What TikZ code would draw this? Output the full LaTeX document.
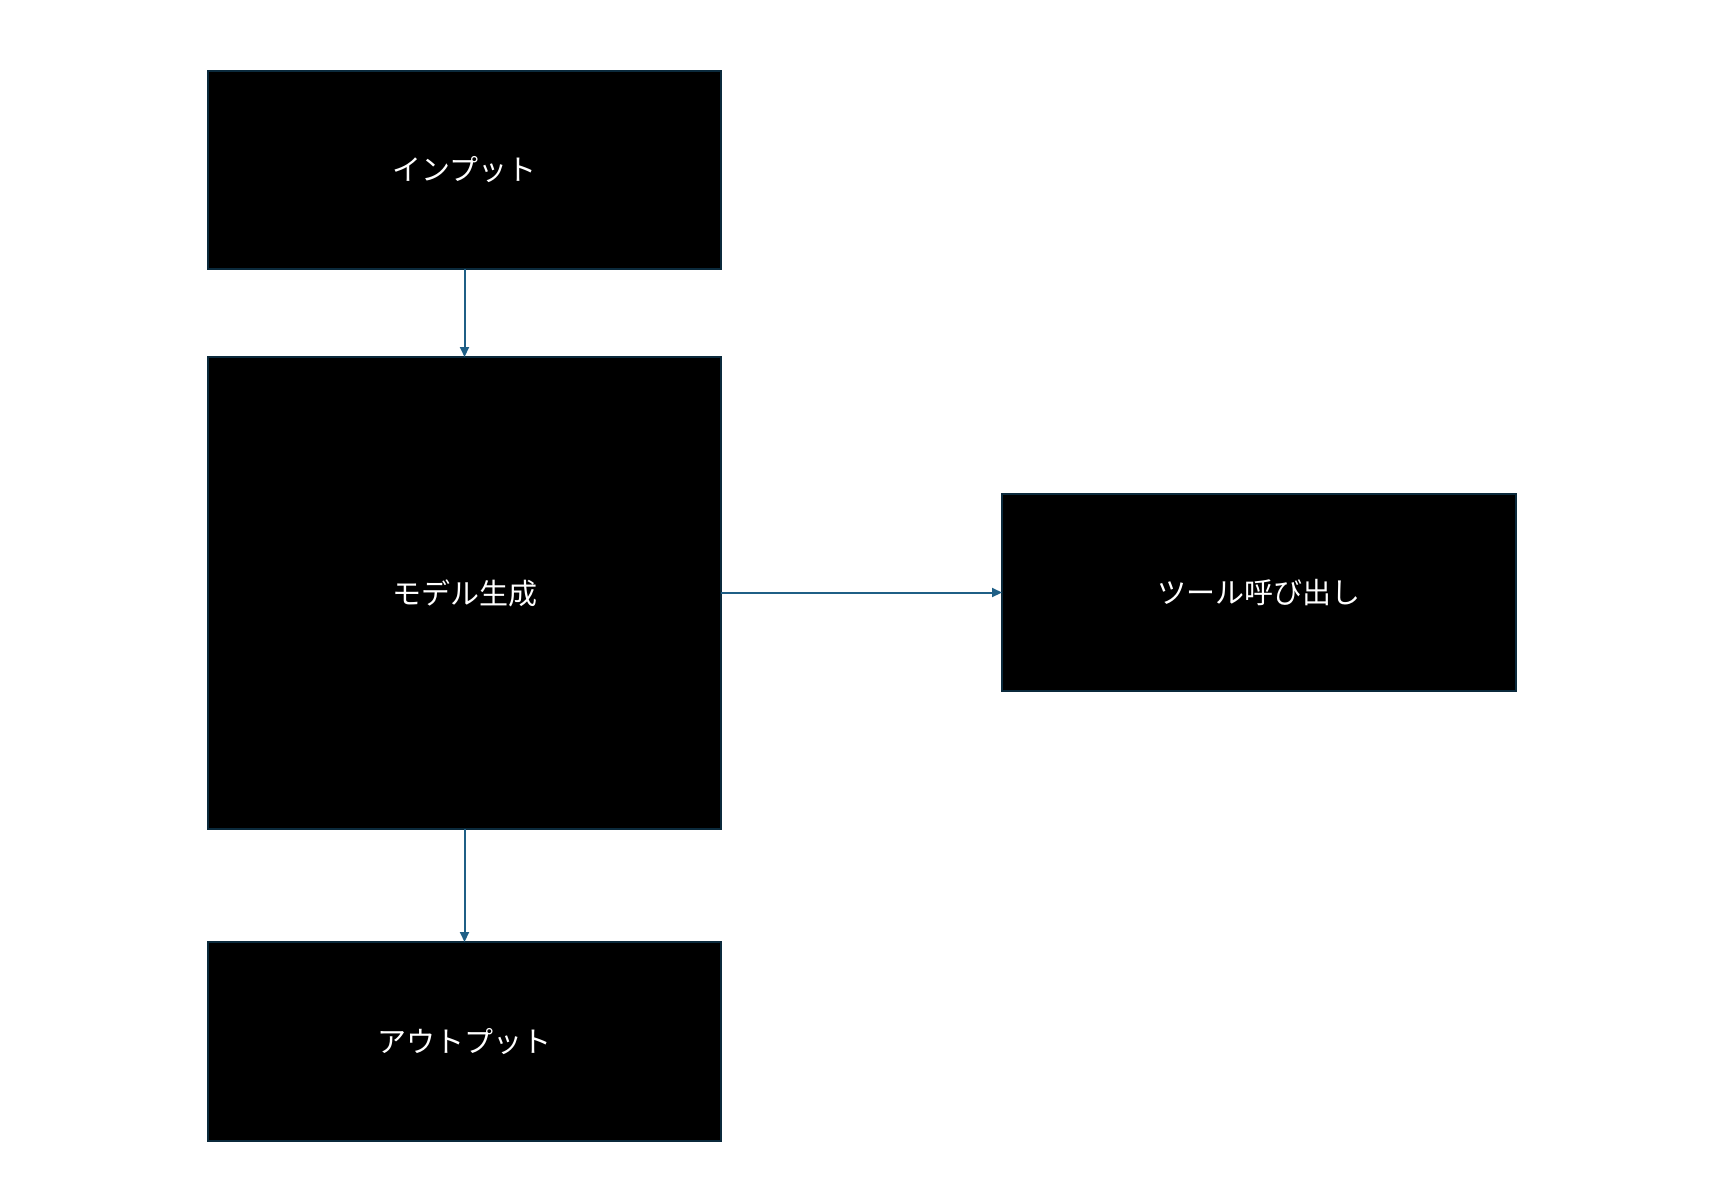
\documentclass[tikz,border=0pt]{standalone}
\usepackage{fontspec}
\newfontfamily\cjk{Noto Sans CJK JP}
\usetikzlibrary{arrows.meta}
\definecolor{bd}{HTML}{0B2A3C}
\definecolor{ar}{HTML}{1F5F86}
\begin{document}
\begin{tikzpicture}[x=1pt,y=-1pt,
  box/.style={draw=bd,line width=2.5pt,fill=black,text=white,font=\cjk\fontsize{29}{34}\selectfont},
  arr/.style={draw=ar,line width=2pt,-{Triangle[length=10pt,width=9pt]}}]
\useasboundingbox (0,0) rectangle (1710,1186);
\path[box] (208,71) rectangle (721,269) node[midway] (in) {インプット};
\path[box] (208,357) rectangle (721,829) node[midway] (gen) {モデル生成};
\path[box] (208,942) rectangle (721,1141) node[midway] (out) {アウトプット};
\path[box] (1002,494) rectangle (1516,691) node[midway] (tool) {ツール呼び出し};
\coordinate (a1) at (464.5,269); \coordinate (a2) at (464.5,357);
\coordinate (b1) at (464.5,829); \coordinate (b2) at (464.5,942);
\coordinate (c1) at (721,592.5); \coordinate (c2) at (1002,592.5);
\draw[arr] (a1) -- (a2);
\draw[arr] (b1) -- (b2);
\draw[arr] (c1) -- (c2);
\end{tikzpicture}
\end{document}
